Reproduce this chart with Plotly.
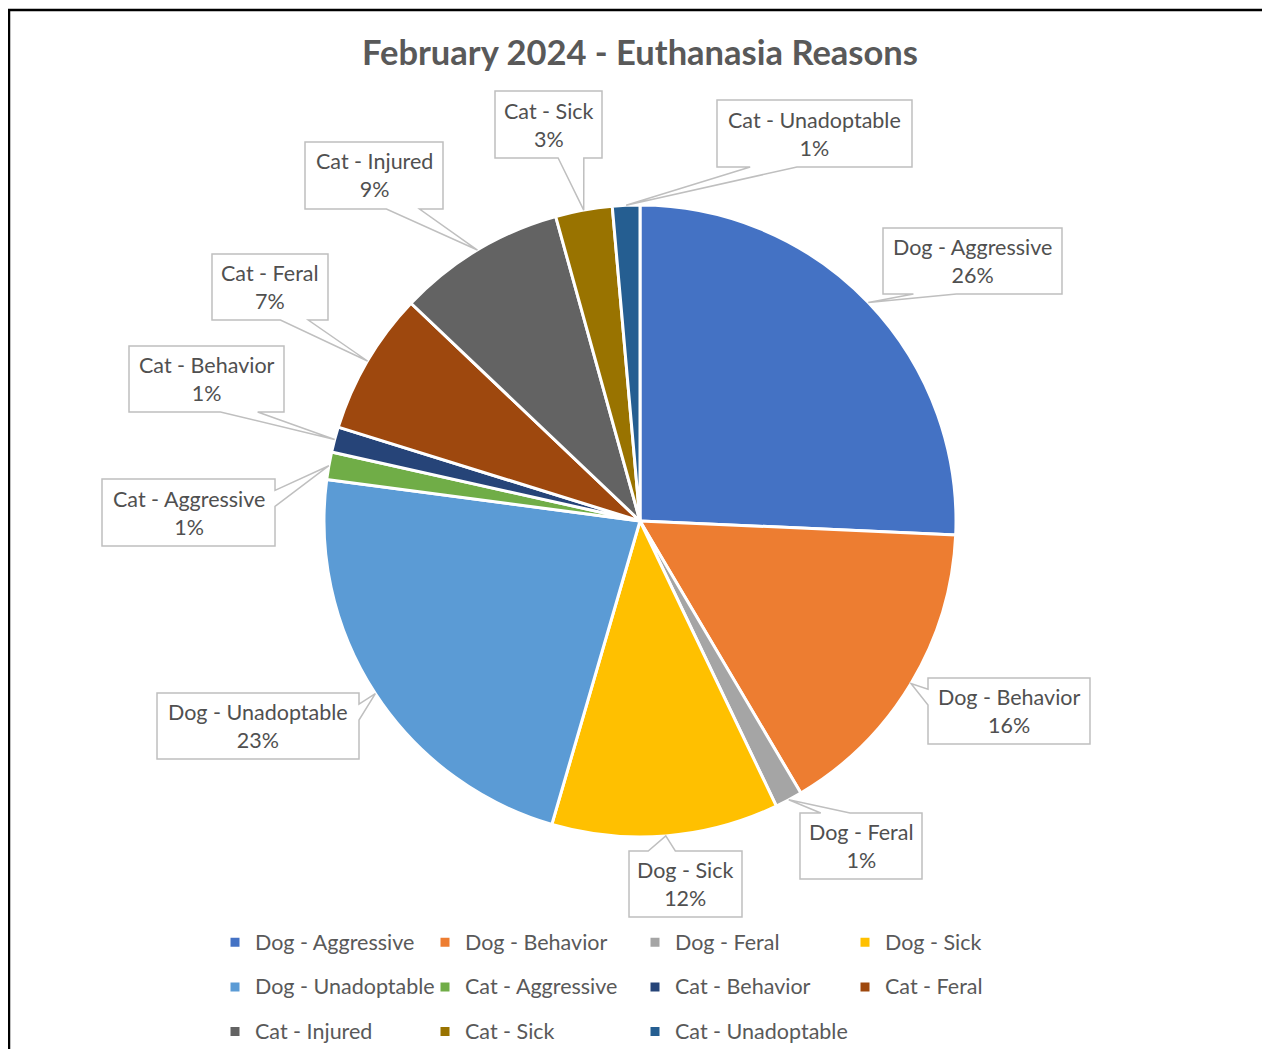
import math

import plotly.graph_objects as go

# Slices in clockwise order starting at 12 o'clock (share of total, in %)
categories = [
    "Dog - Aggressive",
    "Dog - Behavior",
    "Dog - Feral",
    "Dog - Sick",
    "Dog - Unadoptable",
    "Cat - Aggressive",
    "Cat - Behavior",
    "Cat - Feral",
    "Cat - Injured",
    "Cat - Sick",
    "Cat - Unadoptable",
]
shares = [25.7, 15.8, 1.4, 11.6, 22.6, 1.4, 1.3, 7.3, 8.6, 2.9, 1.4]
colors = [
    "#4472C4", "#ED7D31", "#A5A5A5", "#FFC000", "#5B9BD5", "#70AD47",
    "#264478", "#9E480E", "#636363", "#997300", "#255E91",
]

# Callout boxes, page pixels (x0, y0, x1, y1), same order as categories
label_boxes = [
    (883, 228, 1062, 294),
    (928, 678, 1090, 744),
    (800, 813, 922, 879),
    (629, 851, 742, 917),
    (157, 693, 359, 759),
    (102, 479, 275, 546),
    (129, 346, 284, 412),
    (212, 254, 328, 320),
    (305, 142, 443, 209),
    (495, 91, 602, 158),
    (717, 100, 912, 167),
]

# the html body adds an 8px margin, so the figure is sized to fit the window
PAGE_OFFSET = 8
W, H = 1270 - PAGE_OFFSET, 1057 - 2 * PAGE_OFFSET
MARGIN = {"l": 120, "r": 120, "t": 20, "b": 20, "autoexpand": False}
PW = W - MARGIN["l"] - MARGIN["r"]
PH = H - MARGIN["t"] - MARGIN["b"]
CX, CY, R = 640, 521, 316
FONT = "Lato, 'Open Sans', sans-serif"


def to_px(x):
    return (x - PAGE_OFFSET - MARGIN["l"]) / PW


def to_py(y):
    return (H - MARGIN["b"] - (y - PAGE_OFFSET)) / PH


def callout_path(box, tip):
    """Excel-like callout: rectangle with a wedge pointing at the slice."""
    x0, y0, x1, y1 = box
    w, h = x1 - x0, y1 - y0
    cx, cy = (x0 + x1) / 2, (y0 + y1) / 2
    dx, dy = (tip[0] - cx) / (w / 2), (tip[1] - cy) / (h / 2)
    if abs(dx) > abs(dy):
        side = "right" if dx > 0 else "left"
    else:
        side = "bottom" if dy > 0 else "top"
    a, b = 0.17, 0.41
    pts = [(x0, y0)]
    if side == "top":
        if tip[0] < cx:
            pts += [(x0 + a * w, y0), tip, (x0 + b * w, y0)]
        else:
            pts += [(x1 - b * w, y0), tip, (x1 - a * w, y0)]
    pts.append((x1, y0))
    if side == "right":
        if tip[1] < cy:
            pts += [(x1, y0 + a * h), tip, (x1, y0 + b * h)]
        else:
            pts += [(x1, y1 - b * h), tip, (x1, y1 - a * h)]
    pts.append((x1, y1))
    if side == "bottom":
        if tip[0] < cx:
            pts += [(x0 + b * w, y1), tip, (x0 + a * w, y1)]
        else:
            pts += [(x1 - a * w, y1), tip, (x1 - b * w, y1)]
    pts.append((x0, y1))
    if side == "left":
        if tip[1] < cy:
            pts += [(x0, y0 + b * h), tip, (x0, y0 + a * h)]
        else:
            pts += [(x0, y1 - a * h), tip, (x0, y1 - b * h)]
    return "M " + " L ".join(f"{to_px(x):.5f},{to_py(y):.5f}" for x, y in pts) + " Z"


total = sum(shares)
legend_labels = [
    f"<span style='font-size:21.5px;baseline-shift:5px'>{c}</span>" for c in categories
]

fig = go.Figure(
    go.Pie(
        labels=legend_labels,
        values=shares,
        sort=False,
        direction="clockwise",
        rotation=0,
        marker={"colors": colors, "line": {"color": "white", "width": 3}},
        textinfo="none",
        hoverinfo="label+percent",
        domain={
            "x": [to_px(CX - R), to_px(CX + R)],
            "y": [to_py(CY + R), to_py(CY - R)],
        },
    )
)

shapes = []
annotations = []
cum = 0.0
for name, value, box in zip(categories, shares, label_boxes):
    mid = 2 * math.pi * (cum + value / 2) / total
    cum += value
    tip = (CX + R * math.sin(mid), CY - R * math.cos(mid))
    shapes.append(
        {
            "type": "path",
            "xref": "paper",
            "yref": "paper",
            "path": callout_path(box, tip),
            "fillcolor": "white",
            "line": {"color": "#BFBFBF", "width": 1.5},
            "layer": "above",
        }
    )
    annotations.append(
        {
            "xref": "paper",
            "yref": "paper",
            "x": to_px((box[0] + box[2]) / 2),
            "y": to_py((box[1] + box[3]) / 2),
            "text": f"{name}<br>{round(value / total * 100)}%",
            "showarrow": False,
            "xanchor": "center",
            "yanchor": "middle",
            "align": "center",
            "font": {"family": FONT, "size": 21.5, "color": "#505050"},
        }
    )

# outer chart frame (runs off the right and bottom of the page)
shapes.append(
    {
        "type": "rect",
        "xref": "paper",
        "yref": "paper",
        "x0": to_px(9),
        "x1": to_px(1300),
        "y0": to_py(1100),
        "y1": to_py(10),
        "line": {"color": "black", "width": 2.5},
        "fillcolor": "rgba(0,0,0,0)",
        "layer": "below",
    }
)

fig.update_layout(
    width=W,
    height=H,
    margin=MARGIN,
    paper_bgcolor="white",
    plot_bgcolor="white",
    font={"family": FONT, "color": "#595959"},
    title={
        "text": "February 2024 - Euthanasia Reasons",
        "x": (640 - PAGE_OFFSET) / W,
        "xanchor": "center",
        "xref": "container",
        "y": 1 - (53 - PAGE_OFFSET) / H,
        "yanchor": "middle",
        "yref": "container",
        "font": {"family": FONT, "size": 34.5, "color": "#595959", "weight": 700},
    },
    showlegend=True,
    legend={
        "orientation": "h",
        "entrywidth": 165,
        "entrywidthmode": "pixels",
        "x": to_px(215),
        "xanchor": "left",
        "y": to_py(915),
        "yanchor": "top",
        "font": {"family": FONT, "size": 32, "color": "#595959"},
        "bgcolor": "rgba(0,0,0,0)",
        "traceorder": "normal",
    },
    shapes=shapes,
    annotations=annotations,
)

fig.write_html("out.html")
